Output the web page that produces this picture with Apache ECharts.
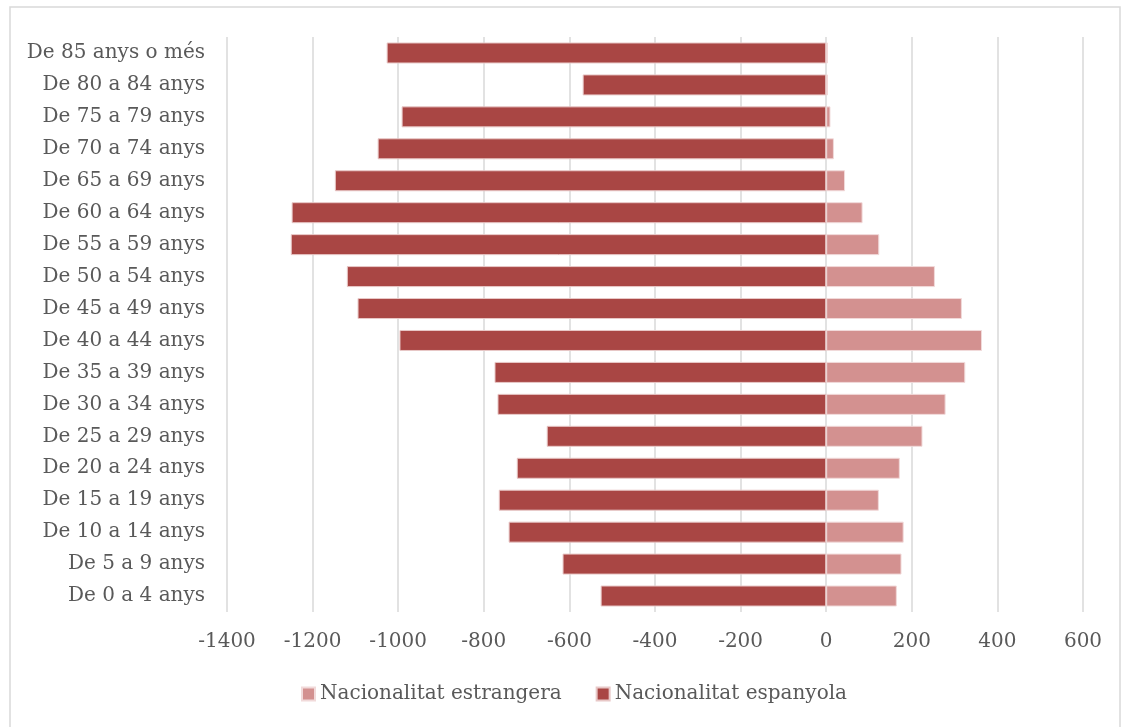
<!DOCTYPE html>
<html><head><meta charset="utf-8">
<script src="https://cdn.jsdelivr.net/npm/echarts@6/dist/echarts.min.js"></script>
<style>html,body{margin:0;padding:0;background:#fff}#c{width:1123px;height:727px}</style>
</head><body><div id="c"></div>
<script>
const categories = ["De 0 a 4 anys","De 5 a 9 anys","De 10 a 14 anys","De 15 a 19 anys","De 20 a 24 anys","De 25 a 29 anys","De 30 a 34 anys","De 35 a 39 anys","De 40 a 44 anys","De 45 a 49 anys","De 50 a 54 anys","De 55 a 59 anys","De 60 a 64 anys","De 65 a 69 anys","De 70 a 74 anys","De 75 a 79 anys","De 80 a 84 anys","De 85 anys o més"];
const espanyola = [-527,-616,-742,-765,-723,-653,-768,-775,-997,-1095,-1120,-1251,-1249,-1148,-1048,-992,-569,-1027];
const estrangera = [165,176,181,123,172,225,279,325,364,317,254,124,85,44,18,10,4,4];
const tickMin = -1400, tickMax = 600, tickStep = 200;

const serif = "'DejaVu Serif', serif";
const chart = echarts.init(document.getElementById('c'), null, {renderer:'canvas'});
chart.setOption({
  animation:false,
  backgroundColor:'#fff',
  graphic:[{type:'rect', shape:{x:10,y:7,width:1110,height:740}, style:{fill:'none', stroke:'#D9D9D9', lineWidth:1.5}, z:-1}],
  grid:{left:227, right:40, top:37, bottom:115, containLabel:false},
  legend:{
    bottom:18, left:296, itemWidth:13, itemHeight:13, itemGap:34, icon:'rect',
    textStyle:{fontFamily:serif, fontSize:20, color:'#595959'},
    data:['Nacionalitat estrangera','Nacionalitat espanyola']
  },
  xAxis:{
    type:'value', min:tickMin, max:tickMax, interval:tickStep,
    axisLine:{show:false}, axisTick:{show:false},
    splitLine:{show:true, lineStyle:{color:'#D9D9D9', width:1.5}},
    axisLabel:{fontFamily:serif, fontSize:20, color:'#595959', margin:20, formatter:function(v){return String(v);}}
  },
  yAxis:{
    type:'category', data:categories,
    axisLine:{show:false}, axisTick:{show:false},
    axisLabel:{fontFamily:serif, fontSize:20, color:'#595959', margin:22}
  },
  series:[
    {name:'Nacionalitat estrangera', type:'bar', data:estrangera, barWidth:21, barGap:'-100%',
     itemStyle:{color:'#D39190', borderColor:'#F1DADA', borderWidth:1}},
    {name:'Nacionalitat espanyola', type:'bar', data:espanyola, barWidth:21,
     itemStyle:{color:'#A94644', borderColor:'#E8C8C7', borderWidth:1}}
  ]
});
</script></body></html>
